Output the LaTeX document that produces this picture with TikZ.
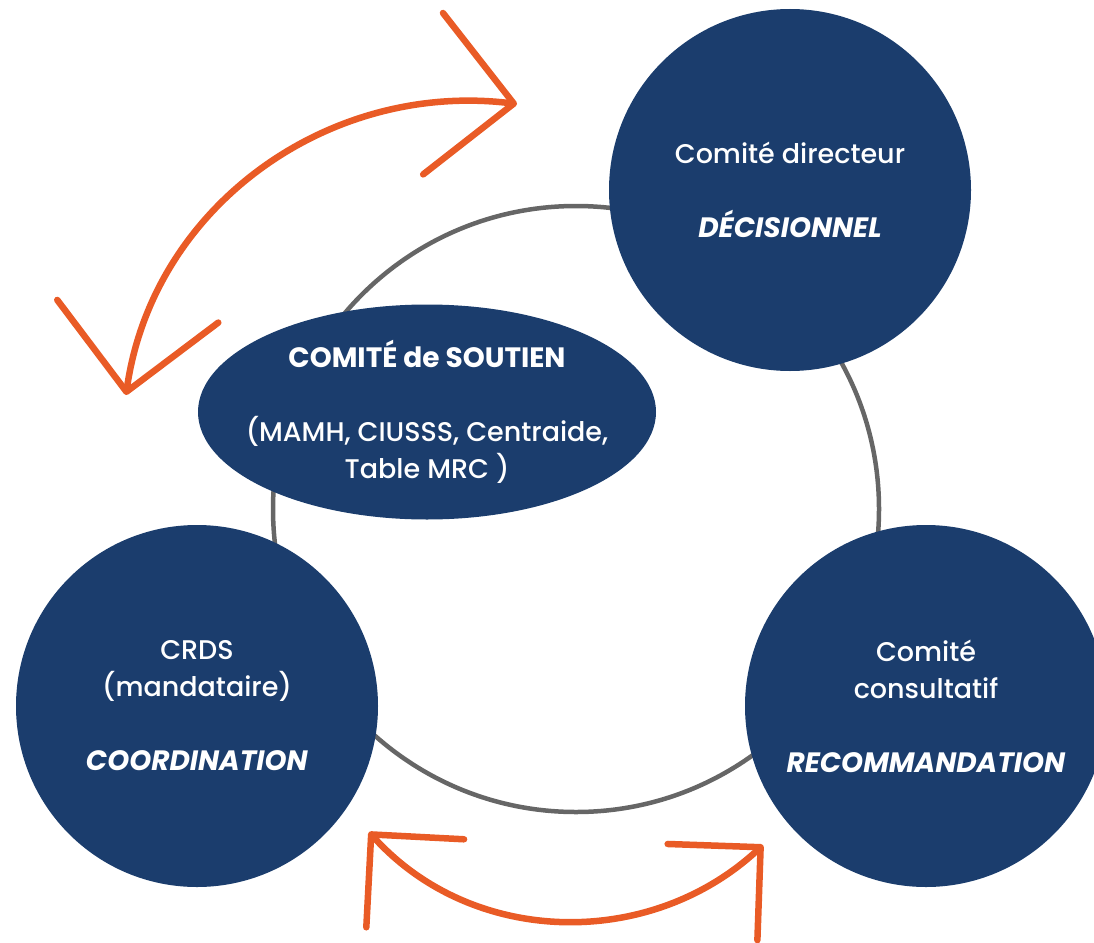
\documentclass[tikz,border=0pt]{standalone}
\usepackage{fontspec}
\setmainfont{Poppins}[UprightFont={* Medium},BoldFont={* Bold},BoldItalicFont={* Bold Italic}]
\usetikzlibrary{arrows.meta,shapes.geometric}
\definecolor{navy}{HTML}{1B3D6D}
\definecolor{flame}{HTML}{E95B26}
\definecolor{ringgray}{HTML}{666666}
\newcommand{\role}[1]{{\fontsize{28}{37}\selectfont\textbf{\textit{#1}}}}
\begin{document}
\begin{tikzpicture}[x=1pt,y=1pt,
    comite/.style={circle,fill=navy,minimum size=362pt,inner sep=0pt,text=white,align=center,font=\fontsize{27}{37}\selectfont},
    soutien/.style={ellipse,fill=navy,minimum width=458pt,minimum height=215pt,inner sep=0pt},
    txt/.style={text=white,align=center,font=\fontsize{27}{37}\selectfont},
    ring/.style={draw=ringgray,line width=4.5pt},
    exchange/.style={draw=flame,line width=6.5pt,line cap=round,
      arrows={Straight Barb[angle=90:#1,round]-Straight Barb[angle=90:#1,round]}}]
  \useasboundingbox (0,0) rectangle (1094,-942);
  \draw[ring] (576,-509) circle (303);
  \node[comite] (dir) at (790,-190) {Comité directeur\\[37pt]\role{DÉCISIONNEL}};
  \node[comite] (crds) at (197,-706) {CRDS\\(mandataire)\\[37pt]\role{COORDINATION}};
  \node[comite] (cons) at (926,-706) {Comité\\consultatif\\[37pt]\role{RECOMMANDATION}};
  \node[soutien] (sout) at (427,-412) {};
  \node[txt] (souttxt) at (sout) {{\fontsize{28}{37}\selectfont\textbf{COMITÉ de SOUTIEN}}\\[37pt](MAMH, CIUSSS, Centraide,\\Table MRC )};
  \coordinate (a1) at (126,-395);
  \coordinate (b1) at (517,-104);
  \coordinate (a2) at (369,-832);
  \coordinate (b2) at (763,-845);
  \begin{scope}
    \draw[exchange=115pt] (a1) to[out=82,in=173] (b1);
    \draw[exchange=93pt] (a2) to[out=-48,in=223] (b2);
  \end{scope}
\end{tikzpicture}
\end{document}
